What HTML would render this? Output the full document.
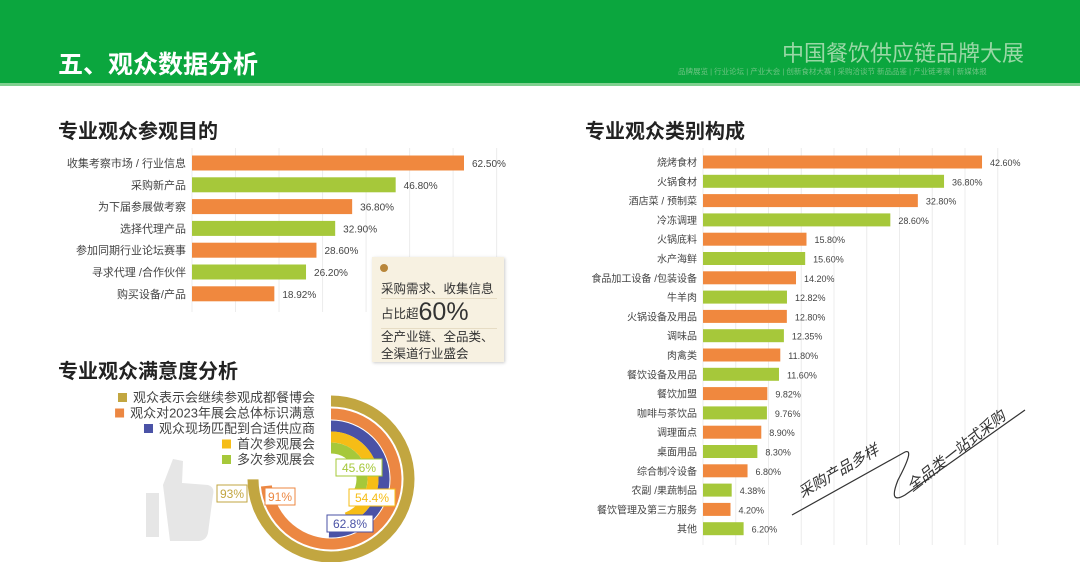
<!DOCTYPE html>
<html><head><meta charset="utf-8">
<style>
*{margin:0;padding:0;box-sizing:border-box}
body{width:1080px;height:562px;overflow:hidden;background:#fff;font-family:"Liberation Sans","Noto Sans CJK SC",sans-serif;position:relative}
.hdr{position:absolute;left:0;top:0;width:1080px;height:86px;background:#0ba63e;border-bottom:3px solid #7fd08f}
.t{position:absolute;white-space:nowrap}
</style></head><body>
<div class="hdr"></div>
<div class="t" style="left:58px;top:45px;color:#fff;font-size:25px;font-weight:bold">五、观众数据分析</div>
<div class="t" style="left:782px;top:36px;color:#9ad8a6;font-size:22px">中国餐饮供应链品牌大展</div>
<div class="t" style="left:678px;top:66px;color:#6fc484;font-size:7.5px">品牌展览 | 行业论坛 | 产业大会 | 创新食材大赛 | 采购洽谈节  新品品鉴 | 产业链考察 | 新媒体报</div>
<div class="t" style="left:58px;top:115px;font-size:20px;font-weight:bold;color:#222">专业观众参观目的</div>
<div class="t" style="left:585px;top:115px;font-size:20px;font-weight:bold;color:#222">专业观众类别构成</div>
<div class="t" style="left:58px;top:355px;font-size:20px;font-weight:bold;color:#222">专业观众满意度分析</div>
<svg id="sv" width="1080" height="562" style="position:absolute;left:0;top:0"></svg>
<div style="position:absolute;left:372px;top:257px;width:132px;height:105px;background:#f7f1e1;box-shadow:1px 1px 3px #ccc">
<div style="position:absolute;left:8px;top:7px;width:8px;height:8px;border-radius:50%;background:#b8863a"></div>
<div class="t" style="left:9px;top:21px;font-size:12.5px;color:#333">采购需求、收集信息</div>
<div style="position:absolute;left:9px;top:41px;width:116px;border-top:1px solid #e6dcc4"></div>
<div class="t" style="left:9px;top:40px;font-size:12.5px;color:#333;height:30px;line-height:30px">占比超<span style="font-size:25px;vertical-align:-2px">60%</span></div>
<div style="position:absolute;left:9px;top:71px;width:116px;border-top:1px solid #e6dcc4"></div>
<div class="t" style="left:9px;top:72px;font-size:12.5px;color:#333;line-height:17px">全产业链、全品类、<br>全渠道行业盛会</div>
</div>
<script>
const NS="http://www.w3.org/2000/svg";const sv=document.getElementById('sv');
function mk(t,a,p){const e=document.createElementNS(NS,t);for(const k in a)e.setAttribute(k,a[k]);(p||sv).appendChild(e);return e;}
const OR="#f0883e",GR="#a6c83a";
const purposeCats=["收集考察市场 / 行业信息","采购新产品","为下届参展做考察","选择代理产品","参加同期行业论坛赛事","寻求代理 /合作伙伴","购买设备/产品"];
const purposeVals=[62.5,46.8,36.8,32.9,28.6,26.2,18.92];
const purposeLbls=["62.50%","46.80%","36.80%","32.90%","28.60%","26.20%","18.92%"];
const catCats=["烧烤食材","火锅食材","酒店菜 / 预制菜","冷冻调理","火锅底料","水产海鲜","食品加工设备 /包装设备","牛羊肉","火锅设备及用品","调味品","肉禽类","餐饮设备及用品","餐饮加盟","咖啡与茶饮品","调理面点","桌面用品","综合制冷设备","农副 /果蔬制品","餐饮管理及第三方服务","其他"];
const catVals=[42.6,36.8,32.8,28.6,15.8,15.6,14.2,12.82,12.8,12.35,11.8,11.6,9.82,9.76,8.9,8.3,6.8,4.38,4.2,6.2];
const catLbls=["42.60%","36.80%","32.80%","28.60%","15.80%","15.60%","14.20%","12.82%","12.80%","12.35%","11.80%","11.60%","9.82%","9.76%","8.90%","8.30%","6.80%","4.38%","4.20%","6.20%"];
const satNames=["观众表示会继续参观成都餐博会","观众对2023年展会总体标识满意","观众现场匹配到合适供应商","首次参观展会","多次参观展会"];
const satVals=[93,91,62.8,54.4,45.6];
const satLbls=["93%","91%","62.8%","54.4%","45.6%"];
const satCols=["#c2a640","#ec8742","#4a52a6","#f6bd16","#a6c83a"];

function bars(cats,vals,lbls,x0,scale,y0,step,h,gridN,gridStep,gTop,gBot,fs,name){
  for(let i=0;i<=gridN;i++){const l=mk('line',{x1:x0+i*gridStep*scale,x2:x0+i*gridStep*scale,y1:gTop,y2:gBot,stroke:'#ececec'});
    }
  cats.forEach((c,i)=>{const y=y0+i*step;const w=vals[i]*scale;
    const r=mk('rect',{x:x0,y:y-h/2,width:w,height:h,fill:i%2?GR:OR});
    
    const t=mk('text',{x:x0-6,y:y+4,'text-anchor':'end','font-size':fs,fill:'#444'});t.textContent=c;
    
    const v=mk('text',{x:x0+w+8,y:y+4,'font-size':fs-1,fill:'#444'});v.textContent=lbls[i];
    
  });
}
bars(purposeCats,purposeVals,purposeLbls,192,4.352,163,21.8,15,7,10,148,312,11,'purpose');
bars(catCats,catVals,catLbls,703,6.55,162,19.3,13,9,5,148,545,10,'category');

// radial
const cx=331,cy=479,radii=[78,65,53,42,31],th=11;
function pt(r,a){const rad=(a-90)*Math.PI/180;return [cx+r*Math.cos(rad),cy+r*Math.sin(rad)];}
const thumb=mk('path',{d:'M163,485 l10,-26 l10,2 l-1,22 l26,2 q7,2 5,10 l-5,38 q-2,8 -10,8 l-28,0 z M146,493 l13,0 l0,44 l-13,0 z',fill:'#e6e6e6'});

satVals.forEach((v,i)=>{const a=v*2.9;const r=radii[i];const s=pt(r,0),e=pt(r,a);
  const p=mk('path',{d:`M${s[0]},${s[1]} A${r},${r} 0 ${a>180?1:0} 1 ${e[0]},${e[1]}`,fill:'none',stroke:satCols[i],'stroke-width':th});
  
  const ly=401+i*15.5;
  const t=mk('text',{x:315,y:ly+1,'text-anchor':'end','font-size':13,fill:'#444'});t.textContent=satNames[i];
  
  const tw=t.getComputedTextLength();
  const sq=mk('rect',{x:315-tw-15,y:ly-8,width:9,height:9,fill:satCols[i]});
  
});
const labPos=[[232,494],[280,497],[350,524],[372,498],[359,468]];
satLbls.forEach((l,i)=>{const [x,y]=labPos[i];const w=l.length*8+6;
  const b=mk('rect',{x:x-w/2,y:y-9,width:w,height:17,fill:'#fff',stroke:satCols[i]});
  
  const t=mk('text',{x:x,y:y+4,'text-anchor':'middle','font-size':12,fill:satCols[i]});t.textContent=l;
  
});
// handwriting
const hw=mk('path',{d:'M792,515 L905,452 Q915,448 898,480 Q888,505 905,495 L1025,410',fill:'none',stroke:'#333','stroke-width':1.2});

const h1=mk('text',{x:802,y:498,'font-size':15,fill:'#333','font-style':'italic',transform:'rotate(-30 802 498)'});h1.textContent='采购产品多样';

const h2=mk('text',{x:912,y:492,'font-size':15,fill:'#333','font-style':'italic',transform:'rotate(-38 912 492)'});h2.textContent='全品类一站式采购';

</script>
</body></html>
